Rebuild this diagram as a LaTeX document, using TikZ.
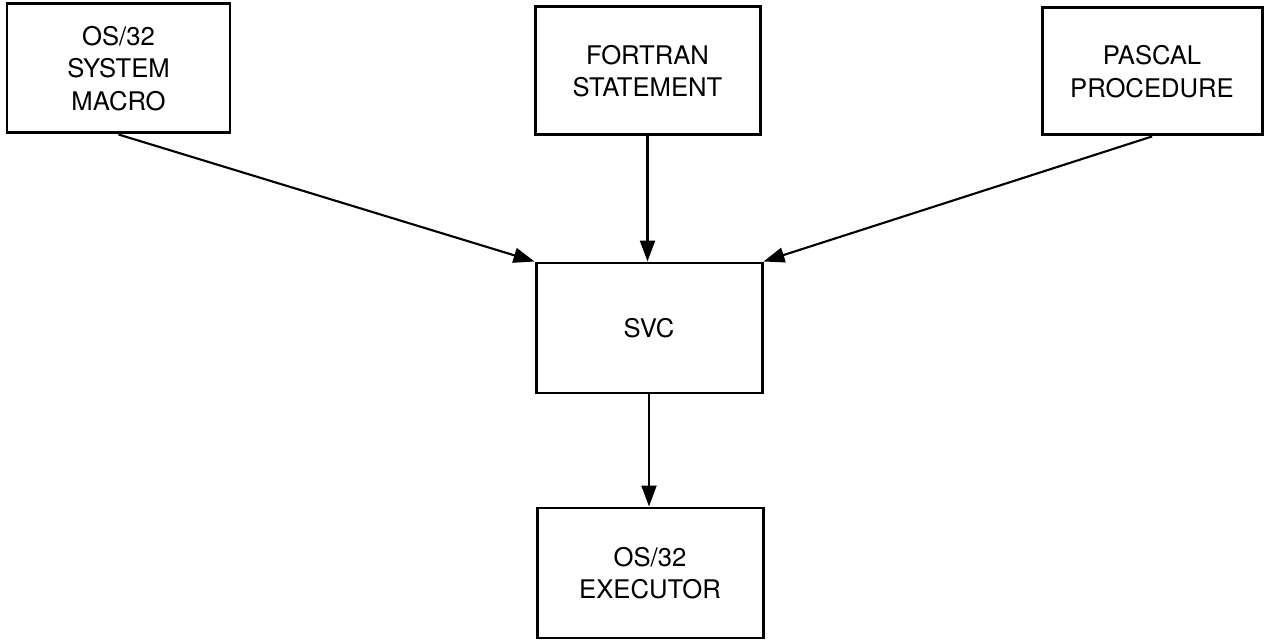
\documentclass[tikz,border=0pt]{standalone}
\usepackage{fontspec}
\setmainfont{TeX Gyre Heros}
\usetikzlibrary{arrows.meta}

\begin{document}
\begin{tikzpicture}[
  box/.style={rectangle, draw=black, line width=1.7pt, align=center, font=\fontsize{14.6}{18.6}\selectfont},
  flow/.style={line width=1.2pt, -{Triangle[length=0.42cm, width=0.3cm]}}]
\useasboundingbox (0, 0) rectangle (25.32, -12.8);
\node[box, minimum width=4.46cm, minimum height=2.58cm] (macro) at (2.37, -1.37) {OS/32\\SYSTEM\\MACRO};
\node[box, minimum width=4.5cm, minimum height=2.56cm] (fortran) at (12.95, -1.42) {FORTRAN\\STATEMENT};
\node[box, minimum width=4.4cm, minimum height=2.54cm] (pascal) at (23.04, -1.43) {PASCAL\\PROCEDURE};
\node[box, minimum width=4.52cm, minimum height=2.6cm] (svc) at (12.98, -6.56) {SVC};
\node[box, minimum width=4.52cm, minimum height=2.6cm] (exec) at (13.0, -11.46) {OS/32\\EXECUTOR};
\draw[flow] (macro.south) -- (svc.north west);
\draw[flow] (fortran.south) -- (fortran.south |- svc.north);
\draw[flow] (pascal.south) -- (svc.north east);
\draw[flow] (svc.south) -- (svc.south |- exec.north);
\end{tikzpicture}
\end{document}
